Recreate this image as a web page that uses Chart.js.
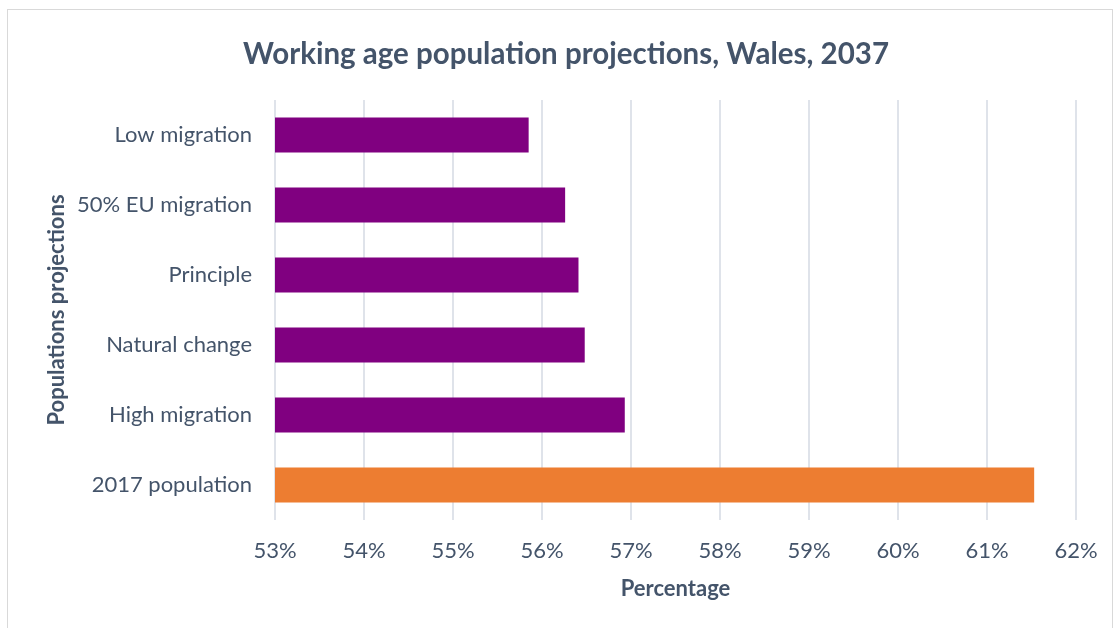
<!DOCTYPE html>
<html>
<head>
<meta charset="utf-8">
<script src="https://cdn.jsdelivr.net/npm/chart.js@4"></script>
<style>
  html, body { margin: 0; padding: 0; background: #fff; overflow: hidden; }
  #frame { position: absolute; left: 7px; top: 9px; width: 1106px; height: 640px; border: 1px solid #d9d9d9; box-sizing: border-box; }
  #wrap { position: absolute; left: 0; top: 0; width: 1116px; height: 628px; }
</style>
</head>
<body>
<div id="frame"></div>
<div id="wrap"><canvas id="myChart" width="1116" height="628"></canvas></div>
<script>
// Projection scenarios, top to bottom
const scenarios = ['Low migration', '50% EU migration', 'Principle', 'Natural change', 'High migration', '2017 population'];
// Working age share of population (%)
const workingAgeShare = [55.85, 56.26, 56.41, 56.48, 56.93, 61.53];
const barColours = ['#800080', '#800080', '#800080', '#800080', '#800080', '#ED7D31'];
const axisMin = 53;
const axisMax = 62;

const textColour = '#44546A';
const fontFamily = 'Lato, "Open Sans", sans-serif';

const ctx = document.getElementById('myChart').getContext('2d');
const chart = new Chart(ctx, {
    type: 'bar',
    data: {
        labels: scenarios,
        datasets: [{
            data: workingAgeShare,
            backgroundColor: barColours,
            borderWidth: 0,
            categoryPercentage: 1,
            barPercentage: 0.5
        }]
    },
    options: {
        indexAxis: 'y',
        responsive: false,
        animation: false,
        // left padding keeps the title centred over the frame, not the canvas
        layout: { padding: { top: 0, left: 56, right: 40, bottom: 0 } },
        plugins: {
            legend: { display: false },
            tooltip: { enabled: false },
            title: {
                display: true,
                text: 'Working age population projections, Wales, 2037',
                color: textColour,
                font: { family: fontFamily, size: 29.5, weight: 'bold' },
                padding: { top: 37, bottom: 27.6 }
            }
        },
        scales: {
            x: {
                min: axisMin,
                max: axisMax,
                ticks: {
                    stepSize: 1,
                    color: textColour,
                    font: { family: fontFamily, size: 22 },
                    padding: 18,
                    callback: (v) => v + '%'
                },
                grid: { color: '#dfe3ea', lineWidth: 2, drawTicks: false },
                border: { display: false },
                title: {
                    display: true,
                    text: 'Percentage',
                    color: textColour,
                    font: { family: fontFamily, size: 22, weight: 'bold' },
                    padding: { bottom: 26 }
                },
                afterFit: (scale) => { scale.height = 108; }
            },
            y: {
                ticks: {
                    color: textColour,
                    font: { family: fontFamily, size: 22 },
                    padding: 23
                },
                grid: { display: false, drawTicks: false },
                border: { display: false },
                title: {
                    display: true,
                    text: 'Populations projections',
                    color: textColour,
                    font: { family: fontFamily, size: 22, weight: 'bold' },
                    padding: { top: -12 }
                },
                afterFit: (scale) => { scale.width = 219; }
            }
        }
    }
});
</script>
</body>
</html>
